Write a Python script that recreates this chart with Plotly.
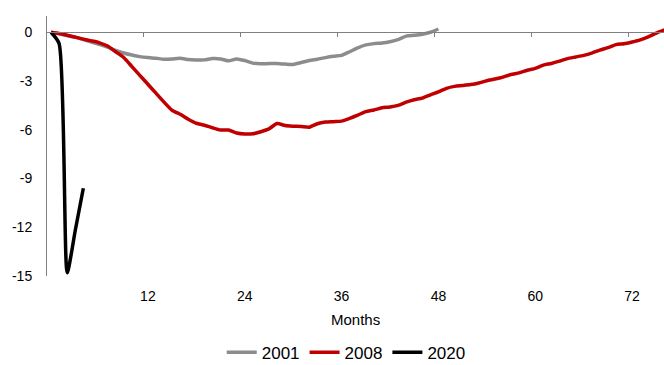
import plotly.graph_objects as go

# Cumulative change by month since the start of each downturn
months_2001 = list(range(0, 49))
values_2001 = [
    0.0, -0.1, -0.2, -0.3, -0.45, -0.6, -0.75, -0.92, -1.12, -1.28,
    -1.4, -1.5, -1.56, -1.6, -1.66, -1.64, -1.6, -1.68, -1.7, -1.7,
    -1.62, -1.64, -1.76, -1.64, -1.74, -1.9, -1.94, -1.93, -1.93, -1.96,
    -1.98, -1.86, -1.74, -1.66, -1.56, -1.48, -1.42, -1.2, -0.96, -0.78,
    -0.7, -0.66, -0.58, -0.45, -0.24, -0.19, -0.12, 0.0, 0.2,
]

months_2008 = list(range(0, 77))
values_2008 = [
    0.0, -0.08, -0.18, -0.3, -0.42, -0.53, -0.65, -0.85, -1.2, -1.55,
    -2.1, -2.65, -3.2, -3.75, -4.3, -4.8, -5.05, -5.35, -5.6, -5.72,
    -5.88, -6.02, -6.02, -6.2, -6.26, -6.25, -6.12, -5.95, -5.62, -5.74,
    -5.78, -5.8, -5.84, -5.63, -5.53, -5.5, -5.47, -5.3, -5.1, -4.88,
    -4.78, -4.65, -4.6, -4.5, -4.3, -4.15, -4.05, -3.85, -3.67, -3.45,
    -3.33, -3.28, -3.22, -3.12, -2.98, -2.88, -2.76, -2.6, -2.5, -2.34,
    -2.22, -2.02, -1.92, -1.78, -1.62, -1.52, -1.42, -1.28, -1.1, -0.95,
    -0.76, -0.71, -0.6, -0.47, -0.28, -0.05, 0.15,
]

months_2020 = [0, 1, 2, 3, 4]
values_2020 = [0.0, -0.7, -14.8, -12.2, -9.6]

x_tick_values = [12, 24, 36, 48, 60, 72]
x_tick_labels = ["12", "24", "36", "48", "60", "72"]
x_tick_marks = [11.5, 23.5, 35.5, 47.5, 59.5, 71.5]
y_tick_values = [0, -3, -6, -9, -12, -15]
y_tick_labels = ["0", "-3", "-6", "-9", "-12", "-15"]

FONT = "Liberation Sans, Arial, sans-serif"
AXIS_GREY = "#808080"
Y_MIN, Y_MAX = -15, 1.0

fig = go.Figure()
series = [
    ("2001", months_2001, values_2001, "#8c8c8c"),
    ("2008", months_2008, values_2008, "#c00000"),
    ("2020", months_2020, values_2020, "#000000"),
]
for name, xs, ys, color in series:
    fig.add_trace(go.Scatter(
        x=xs, y=ys, name=name, mode="lines",
        line=dict(color=color, width=3.5, shape="spline", smoothing=0.6),
        hoverinfo="skip",
    ))

# Invisible helper trace so the zero-line axis is drawn
fig.add_trace(go.Scatter(x=[None], y=[None], xaxis="x2", yaxis="y",
                         showlegend=False, hoverinfo="skip"))

fig.update_layout(
    width=664, height=365,
    margin=dict(l=47, r=0, t=16, b=89, autoexpand=False),
    paper_bgcolor="white", plot_bgcolor="white",
    font=dict(family=FONT, color="#000000", size=14),
    showlegend=True,
    legend=dict(
        orientation="h", x=0.485, xanchor="center",
        y=-0.295, yanchor="middle",
        font=dict(family=FONT, size=17, color="#000000"),
        bgcolor="rgba(0,0,0,0)", itemwidth=30,
    ),
    xaxis=dict(
        range=[-0.5, 75.95],
        tickmode="array", tickvals=x_tick_values, ticktext=x_tick_labels,
        ticks="", showline=False, showgrid=False, zeroline=False,
        ticklabelstandoff=10,
        tickfont=dict(family=FONT, size=14, color="#000000"),
    ),
    xaxis2=dict(
        overlaying="x", matches="x", anchor="free",
        position=(0 - Y_MIN) / (Y_MAX - Y_MIN), side="bottom",
        range=[-0.5, 75.95],
        tickmode="array", tickvals=x_tick_marks,
        ticks="outside", ticklen=4, tickwidth=1, tickcolor=AXIS_GREY,
        showticklabels=False, showline=True, linecolor=AXIS_GREY, linewidth=1,
        showgrid=False, zeroline=False,
    ),
    yaxis=dict(
        range=[Y_MIN, Y_MAX],
        tickmode="array", tickvals=y_tick_values, ticktext=y_tick_labels,
        ticks="", showline=True, linecolor=AXIS_GREY, linewidth=1,
        showgrid=False, zeroline=False, ticklabelstandoff=11,
        tickfont=dict(family=FONT, size=14, color="#000000"),
    ),
    annotations=[dict(
        text="Months", xref="paper", yref="paper", x=0.5, y=-0.169,
        xanchor="center", yanchor="middle", showarrow=False,
        font=dict(family=FONT, size=15, color="#000000"),
    )],
)

fig.write_html("out.html")
